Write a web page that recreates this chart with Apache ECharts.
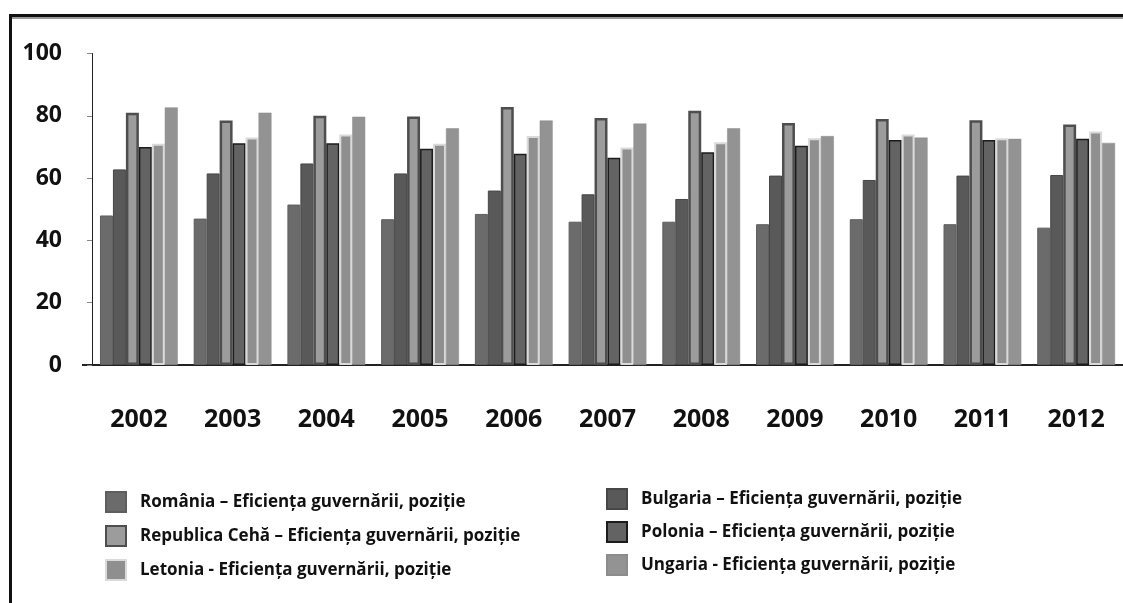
<!DOCTYPE html>
<html>
<head>
<meta charset="utf-8">
<script src="https://cdn.jsdelivr.net/npm/echarts@6/dist/echarts.min.js"></script>
<style>
  html, body { margin: 0; padding: 0; background: #fff; }
  #chart { width: 1123px; height: 603px; }
</style>
</head>
<body>
<div id="chart"></div>
<script>
var years = ['2002', '2003', '2004', '2005', '2006', '2007', '2008', '2009', '2010', '2011', '2012']

var romania = [48, 47, 51.5, 46.8, 48.5, 46, 46, 45.2, 46.8, 45.2, 44.1]
var bulgaria = [62.8, 61.5, 64.7, 61.5, 56, 54.8, 53.3, 60.8, 59.4, 60.8, 61]
var ceha = [81, 78.5, 80, 79.8, 82.8, 79.3, 81.6, 77.7, 79, 78.6, 77.2]
var polonia = [70, 71.2, 71.2, 69.4, 67.8, 66.5, 68.3, 70.4, 72.2, 72.2, 72.6]
var letonia = [71, 73, 74, 71, 73.5, 69.8, 71.5, 72.8, 74, 72.8, 75]
var ungaria = [82.7, 81, 79.7, 76, 78.5, 77.5, 76, 73.5, 73, 72.6, 71.3]

var names = {
  ro: 'România – Eficiența guvernării, poziție',
  bg: 'Bulgaria – Eficiența guvernării, poziție',
  cz: 'Republica Cehă – Eficiența guvernării, poziție',
  pl: 'Polonia – Eficiența guvernării, poziție',
  lv: 'Letonia - Eficiența guvernării, poziție',
  hu: 'Ungaria - Eficiența guvernării, poziție'
}

var font = '"Open Sans", "DejaVu Sans", sans-serif'

function bar(name, data, fill, border, bw) {
  return {
    name: name,
    type: 'bar',
    xAxisIndex: 0,
    barGap: '0%',
    barCategoryGap: '17%',
    data: data,
    itemStyle: {
      color: fill,
      borderColor: border,
      borderWidth: bw
    }
  }
}

function setOption(chart) {
  var legendText = {
    fontFamily: font,
    fontWeight: 'bold',
    fontSize: 17,
    color: '#111',
    padding: [0, 0, 0, 9]
  }
  var options = {
    animation: false,
    grid: {
      left: 92,
      top: 53.5,
      bottom: 238,
      width: 1041
    },
    legend: [{
      orient: 'vertical',
      left: 100,
      top: 486,
      icon: 'rect',
      itemWidth: 20,
      itemHeight: 20,
      itemGap: 12,
      textStyle: legendText,
      data: [names.ro, names.cz, names.lv]
    }, {
      orient: 'vertical',
      left: 601,
      top: 483,
      icon: 'rect',
      itemWidth: 20,
      itemHeight: 20,
      itemGap: 11,
      textStyle: legendText,
      data: [names.bg, names.pl, names.hu]
    }],
    xAxis: [{
      type: 'category',
      position: 'bottom',
      data: years,
      axisLine: { lineStyle: { color: '#222', width: 2 } },
      axisTick: { length: 10, lineStyle: { color: '#222', width: 1.5 } },
      axisLabel: {
        margin: 42,
        fontFamily: font,
        fontWeight: 'bold',
        fontSize: 25,
        color: '#111'
      }
    }, {
      // ticks in the middle of every year
      type: 'category',
      position: 'bottom',
      data: years,
      axisLine: { show: false },
      axisTick: { alignWithLabel: true, length: 12, lineStyle: { color: '#111', width: 2 } },
      axisLabel: { show: false }
    }],
    yAxis: {
      type: 'value',
      min: 0,
      max: 100,
      interval: 20,
      splitLine: { show: false },
      axisLine: { show: true, lineStyle: { color: '#222', width: 1 } },
      axisTick: { show: true, length: 5, lineStyle: { color: '#888' } },
      axisLabel: {
        margin: 30,
        fontFamily: font,
        fontWeight: 'bold',
        fontSize: 23,
        color: '#111'
      }
    },
    series: [
      bar(names.ro, romania, '#6b6b6b', '#5e5e5e', 1),
      bar(names.bg, bulgaria, '#595959', '#474747', 1),
      bar(names.cz, ceha, '#9c9c9c', '#4e4e4e', 2.5),
      bar(names.pl, polonia, '#636363', '#1c1c1c', 1.5),
      bar(names.lv, letonia, '#8f8f8f', '#dadada', 2),
      bar(names.hu, ungaria, '#939393', '#8c8c8c', 0.5)
    ],
    graphic: [{
      type: 'rect',
      shape: { x: 9, y: 14, width: 1114, height: 3 },
      style: { fill: '#111' }
    }, {
      type: 'rect',
      shape: { x: 11, y: 17, width: 1112, height: 2 },
      style: { fill: '#9a9a9a' }
    }, {
      type: 'rect',
      shape: { x: 9, y: 14, width: 3, height: 589 },
      style: { fill: '#111' }
    }, {
      // axis line runs a little past the y axis on the left
      type: 'rect',
      shape: { x: 82, y: 364, width: 10, height: 2 },
      style: { fill: '#222' }
    }]
  }
  chart.setOption(options)
}

var chart = echarts.init(document.getElementById('chart'))
setOption(chart)
</script>
</body>
</html>
